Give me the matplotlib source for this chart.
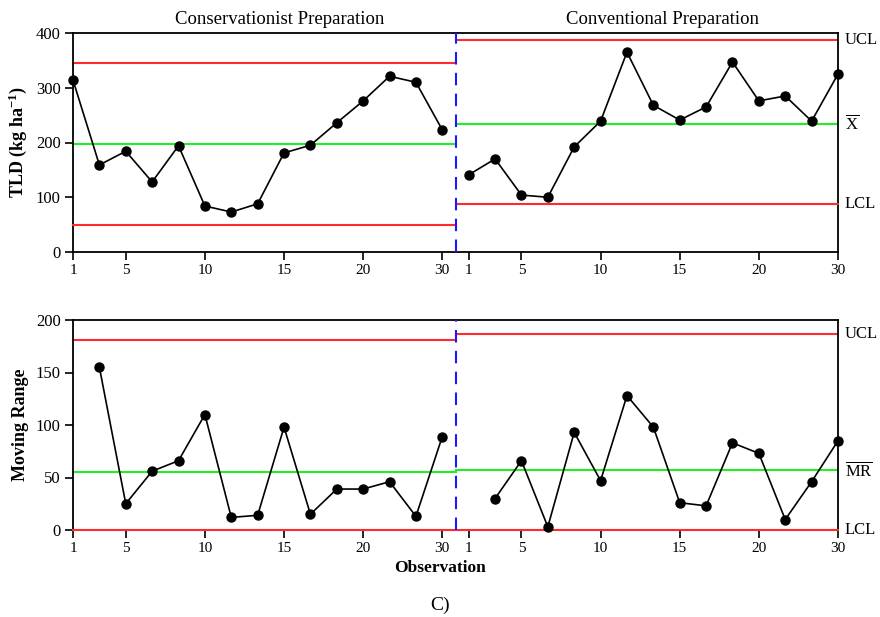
import matplotlib
matplotlib.use("Agg")
import matplotlib.pyplot as plt
import numpy as np

plt.rcParams['font.family'] = ['Liberation Serif', 'DejaVu Serif']
plt.rcParams['mathtext.fontset'] = 'custom'
plt.rcParams['mathtext.rm'] = 'Liberation Serif'
plt.rcParams['mathtext.bf'] = 'Liberation Serif:bold'
plt.rcParams['mathtext.it'] = 'Liberation Serif:italic'

phase_names = ["Conservationist Preparation", "Conventional Preparation"]
tick_labels = ["1", "5", "10", "15", "20", "30"]
tick_idx = [0, 2, 5, 8, 11, 14]

tld_cons = [314, 159, 184, 128, 194, 84, 73, 88, 181, 195, 236, 276, 321, 310, 223]
tld_conv = [141, 170, 104, 100, 192, 239, 365, 268, 241, 265, 347, 276, 285, 239, 325]
mr_cons = [np.nan, 155, 25, 56, 66, 110, 12, 14, 98, 15, 39, 39, 46, 13, 89]
mr_conv = [np.nan, 30, 66, 3, 93, 47, 128, 98, 26, 23, 83, 73, 10, 46, 85]

x_ucl = [345, 387]
x_mean = [197, 234]
x_lcl = [49, 87]
mr_ucl = [181, 187]
mr_mean = [55, 57]
mr_lcl = [0, 0]

n = len(tld_cons)
x1 = np.arange(n)
x2 = np.arange(n) + n
boundary = n - 0.5
xmax = 2 * n - 1

fig = plt.figure(figsize=(8.8, 6.17), dpi=100)
ax1 = fig.add_axes([73/880, 1-252/617, (838-73)/880, (252-33)/617])
ax2 = fig.add_axes([73/880, 1-530/617, (838-73)/880, (530-320)/617])

RED = '#ff2a2a'
GREEN = '#22ee22'

def draw(ax, d1, d2, ucl, mean, lcl, ymax, yticks, ylabel, rlabels):
    ax.set_xlim(0, xmax)
    ax.set_ylim(0, ymax)
    segs = [(0, boundary), (boundary, xmax)]
    for k, (a, b) in enumerate(segs):
        ax.plot([a, b], [ucl[k], ucl[k]], color=RED, lw=1.5, zorder=2)
        ax.plot([a, b], [mean[k], mean[k]], color=GREEN, lw=1.5, zorder=2)
        ax.plot([a, b], [lcl[k], lcl[k]], color=RED, lw=1.5, zorder=3, clip_on=False)
    ax.axvline(boundary, color='#1a1aff', lw=1.5, ls=(0, (6, 4)), zorder=4)
    ax.plot(x1, d1, color='black', lw=1.2, marker='o', ms=6.5, zorder=5, clip_on=False)
    ax.plot(x2, d2, color='black', lw=1.2, marker='o', ms=6.5, zorder=5, clip_on=False)
    ticks = [x1[i] for i in tick_idx] + [x2[i] for i in tick_idx]
    ax.set_xticks(ticks)
    ax.set_xticklabels(tick_labels + tick_labels, fontsize=11)
    ax.set_yticks(yticks)
    ax.set_yticklabels([str(v) for v in yticks], fontsize=12)
    ax.tick_params(direction='out', length=6, width=1.2, pad=3)
    for s in ax.spines.values():
        s.set_linewidth(1.3)
    ax.set_ylabel(ylabel, fontsize=13, fontweight='bold', labelpad=5)
    yvals = [ucl[1], mean[1], lcl[1]]
    for lab, yv in zip(rlabels, yvals):
        ax.annotate(lab, xy=(1, yv), xycoords=('axes fraction', 'data'),
                    xytext=(5, 0), textcoords='offset points',
                    ha='left', va='center', fontsize=12, annotation_clip=False)

draw(ax1, tld_cons, tld_conv, x_ucl, x_mean, x_lcl, 400, [0, 100, 200, 300, 400],
     r"TLD (kg ha$^{\mathbf{-1}}$)", ["UCL", r"$\overline{\mathrm{X}}$", "LCL"])
draw(ax2, mr_cons, mr_conv, mr_ucl, mr_mean, mr_lcl, 200, [0, 50, 100, 150, 200],
     "Moving Range", ["UCL", r"$\overline{\mathrm{MR}}$", "LCL"])

ax1.text(7.84, 1.025, phase_names[0], transform=ax1.get_xaxis_transform(),
         ha='center', va='bottom', fontsize=13.5)
ax1.text(22.35, 1.025, phase_names[1], transform=ax1.get_xaxis_transform(),
         ha='center', va='bottom', fontsize=13.5)

fig.text(440/880, 1-568/617, "Observation", ha='center', va='center', fontsize=12.5, fontweight='bold')
fig.text(440/880, 1-605/617, "C)", ha='center', va='center', fontsize=14)

fig.savefig("out.png", dpi=100)
